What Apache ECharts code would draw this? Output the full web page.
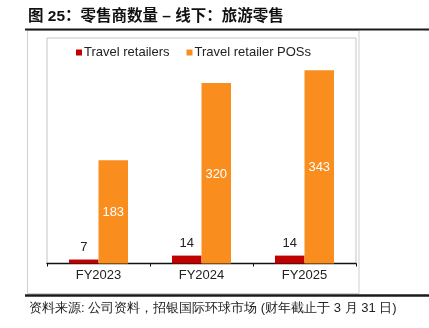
<!DOCTYPE html>
<html>
<head>
<meta charset="utf-8">
<script src="https://cdn.jsdelivr.net/npm/echarts@6/dist/echarts.min.js"></script>
<style>
  html, body { margin: 0; padding: 0; background: #fff; }
  #chart { width: 429px; height: 328px; }
</style>
</head>
<body>
<div id="chart"></div>
<script>
// Offline travel retail: number of retailers and points of sale by fiscal year
const categories = ['FY2023', 'FY2024', 'FY2025'];
const travelRetailers = [7, 14, 14];
const travelRetailerPOSs = [183, 320, 343];
const seriesNames = ['Travel retailers', 'Travel retailer POSs'];
const titleText = '图 25：零售商数量 – 线下：旅游零售';
const sourceText = '资料来源: 公司资料，招银国际环球市场 (财年截止于 3 月 31 日)';

const FONT = '"Liberation Sans", Arial, "Noto Sans CJK SC", sans-serif';

const chart = echarts.init(document.getElementById('chart'), null, { renderer: 'canvas' });

chart.setOption({
  animation: false,
  backgroundColor: '#fff',
  textStyle: { fontFamily: FONT },
  title: {
    text: titleText,
    left: 23,
    top: 4,
    textStyle: { fontSize: 15.5, fontWeight: 'bold', color: '#111', fontFamily: FONT }
  },
  legend: {
    left: 71,
    top: 41,
    itemWidth: 6,
    itemHeight: 6,
    itemGap: 17,
    icon: 'rect',
    textStyle: { fontSize: 13, color: '#222', fontFamily: FONT, padding: [0, 0, 0, -3] },
    data: seriesNames
  },
  grid: {
    left: 47,
    right: 73,
    top: 38,
    bottom: 64.5,
    show: true,
    borderColor: '#c4c4c4',
    borderWidth: 1,
    containLabel: false
  },
  xAxis: {
    type: 'category',
    data: categories,
    axisLine: { lineStyle: { color: '#111', width: 1.3 } },
    axisTick: { show: true, length: 3, lineStyle: { color: '#111' } },
    axisLabel: { fontSize: 13, color: '#222', margin: 5, fontFamily: FONT }
  },
  yAxis: {
    type: 'value',
    min: 0,
    max: 400,
    show: false,
    splitLine: { show: false }
  },
  series: [
    {
      name: seriesNames[0],
      type: 'bar',
      data: travelRetailers,
      barWidth: 29.5,
      barGap: '0%',
      itemStyle: { color: '#C00000' },
      label: {
        show: true,
        position: 'top',
        distance: 6,
        fontSize: 13,
        color: '#222',
        fontFamily: FONT
      }
    },
    {
      name: seriesNames[1],
      type: 'bar',
      data: travelRetailerPOSs,
      barWidth: 29.5,
      barGap: '0%',
      itemStyle: { color: '#F98E1F' },
      label: {
        show: true,
        position: 'inside',
        offset: [0, 1],
        fontSize: 13,
        color: '#fff',
        fontFamily: FONT
      }
    }
  ],
  graphic: [
    {
      type: 'line',
      shape: { x1: 25, y1: 29.5, x2: 429, y2: 29.5 },
      style: { stroke: '#1a1a1a', lineWidth: 2 },
      z: 10
    },
    {
      type: 'rect',
      shape: { x: 27.5, y: 30.5, width: 331.5, height: 263 },
      style: { fill: 'none', stroke: '#cfcfcf', lineWidth: 1 },
      z: 5
    },
    {
      type: 'line',
      shape: { x1: 25, y1: 295.5, x2: 429, y2: 295.5 },
      style: { stroke: '#1a1a1a', lineWidth: 2.5 },
      z: 10
    },
    {
      type: 'text',
      left: 29,
      top: 302,
      style: { text: sourceText, fontSize: 13, fill: '#222', font: '13px ' + FONT },
      z: 10
    }
  ]
});
</script>
</body>
</html>
